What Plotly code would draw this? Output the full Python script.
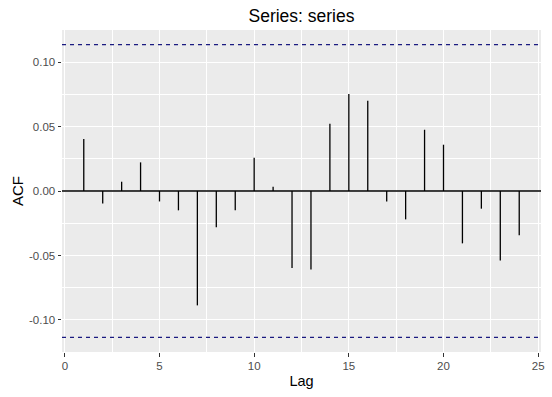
import plotly.graph_objects as go

lags = list(range(1, 25))
acf = [0.0403, -0.0096, 0.0072, 0.0222, -0.0081, -0.0150, -0.0887, -0.0282,
       -0.0150, 0.0258, 0.0033, -0.0597, -0.0608, 0.0522, 0.0752, 0.0700,
       -0.0081, -0.0220, 0.0475, 0.0359, -0.0406, -0.0137, -0.0538, -0.0344]
ci = 0.1135
title = "Series: series"
x_title = "Lag"
y_title = "ACF"
x_ticks = [0, 5, 10, 15, 20, 25]
y_ticks = [-0.10, -0.05, 0.00, 0.05, 0.10]

xs, ys = [], []
for l, a in zip(lags, acf):
    xs += [l, l, None]
    ys += [0, a, None]

xmin, xmax = min(lags), max(lags)
xpad = (xmax - xmin) * 0.05
ypad = (2 * ci) * 0.05

fig = go.Figure()
fig.add_trace(go.Scatter(x=xs, y=ys, mode="lines",
                         line=dict(color="black", width=1.3),
                         hoverinfo="skip", showlegend=False))

# zero line and confidence bounds
fig.add_hline(y=0, line=dict(color="black", width=1.3), layer="above")
for v in (ci, -ci):
    fig.add_hline(y=v, line=dict(color="#1a1a80", width=1.2, dash="4px,4px"), layer="above")

fig.update_layout(
    width=552, height=397,
    margin=dict(l=62.4, r=7.6, t=30, b=45.3),
    paper_bgcolor="white",
    plot_bgcolor="#EBEBEB",
    font=dict(family="Liberation Sans, Arial, sans-serif", color="black"),
    title=dict(text=title, x=0.5, xref="paper", xanchor="center",
               y=1 - 16 / 397, yanchor="middle",
               font=dict(size=17.5, color="black")),
    showlegend=False,
)

fig.update_xaxes(
    range=[xmin - xpad, xmax + xpad],
    tickvals=x_ticks, ticktext=[str(t) for t in x_ticks],
    tickfont=dict(size=11.5, color="#4D4D4D"),
    ticks="outside", ticklen=3.5, tickcolor="#333333", tickwidth=1,
    showgrid=True, gridcolor="white", gridwidth=1.1,
    minor=dict(tickvals=[2.5, 7.5, 12.5, 17.5, 22.5], showgrid=True,
               gridcolor="white", gridwidth=0.5, ticks=""),
    zeroline=False, showline=False,
    title=dict(text=x_title, font=dict(size=14.5, color="black"), standoff=4),
)
fig.update_yaxes(
    range=[-ci - ypad, ci + ypad],
    tickvals=y_ticks, ticktext=[f"{t:.2f}" for t in y_ticks],
    tickfont=dict(size=11.5, color="#4D4D4D"),
    ticks="outside", ticklen=3.5, tickcolor="#333333", tickwidth=1,
    showgrid=True, gridcolor="white", gridwidth=1.1,
    minor=dict(tickvals=[-0.075, -0.025, 0.025, 0.075], showgrid=True,
               gridcolor="white", gridwidth=0.5, ticks=""),
    zeroline=False, showline=False,
    title=dict(text=y_title, font=dict(size=15, color="black"), standoff=1),
)

fig.write_html("out.html", config={"displayModeBar": False},
               post_script="document.body.style.margin='0';")
